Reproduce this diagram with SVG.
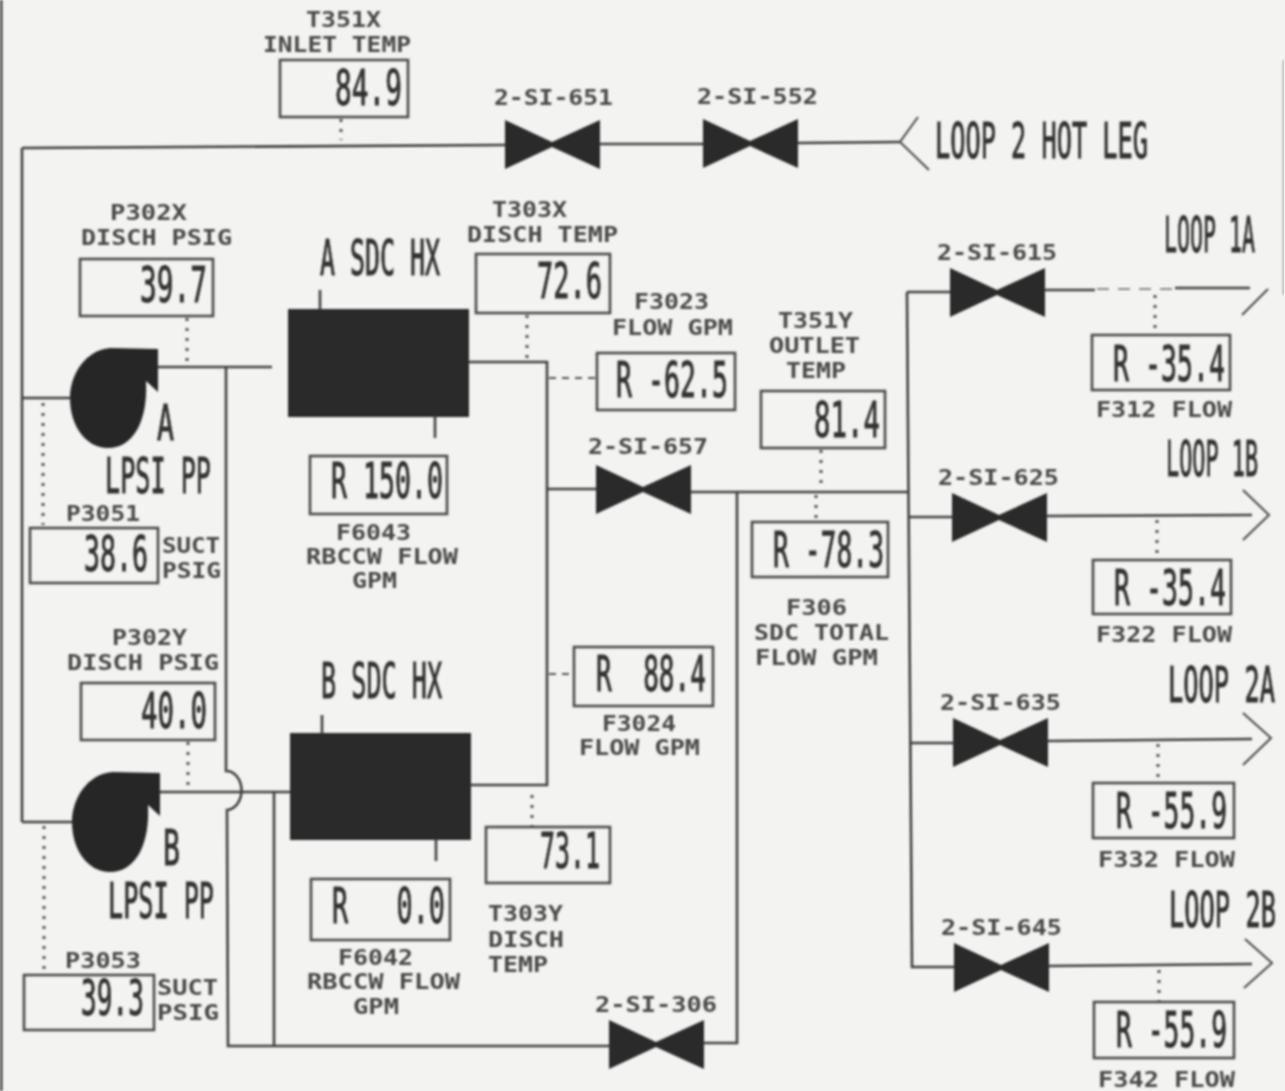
<svg xmlns="http://www.w3.org/2000/svg" width="1285" height="1091" viewBox="0 0 1285 1091">
<style>
text{font-family:"DejaVu Sans Mono","Liberation Mono",monospace;fill:#3c3c3c;white-space:pre}
.s{font-size:22px;font-weight:700;fill:#4a4a4a}
.b{font-size:49px;fill:#333;stroke:#333;stroke-width:1}
.box{fill:none;stroke:#4a4a4a;stroke-width:2.6}
.pipe{fill:none;stroke:#3f3f3f;stroke-width:2.6}
.arrow{fill:none;stroke:#4a4a4a;stroke-width:2}
.dot{fill:none;stroke:#555;stroke-width:3;stroke-dasharray:3 7}
.dash{fill:none;stroke:#555;stroke-width:2;stroke-dasharray:7 6}
.faint{fill:none;stroke:#8a8a8a;stroke-width:2;stroke-dasharray:12 9}
.dark{fill:#2a2a2a}
</style>
<defs>
<filter id="scan" x="0" y="0" width="100%" height="100%"><feGaussianBlur stdDeviation="0.8"/></filter>
<polygon id="v" points="0,0 47,22 95,0 95,49 47,27 0,49" fill="#2a2a2a"/>
<path id="pump" d="M158,349 L110,348 C86,350 70,374 70,398 C70,426 86,448 108,448 C134,448 148,420 146,381 L158,392 Z" fill="#262626"/>
</defs>
<rect width="1285" height="1091" fill="#f3f3f1"/>
<g filter="url(#scan)">
<rect x="0" y="0" width="2.5" height="1091" fill="#444"/>
<path d="M1283.500,60V295" stroke="#999" stroke-width="1.500" fill="none"/>

<g id="connectors">
<path class="pipe" d="M22,148L505,145M600,144L703,144M798,143L900,142M22,148L22,822M22,398L70,398M22,822L72,822"/>
<path class="pipe" d="M158,367L272,367M469,362L547,362L547,785L471,785M226,367L226,771A15,19.500 0 0 1 227,810L228,1046L610,1046M160,792L290,792M274,792L274,1046"/>
<path class="pipe" d="M703,1043L737,1043L737,492M547,489L596,489M690,492L908,492M907,292L912,967L954,967"/>
<path class="pipe" d="M907,292L950,292M1045,290L1095,290M1175,288L1250,288M908,517L952,517M1047,516L1252,515M910,743L953,743M1048,741L1252,739M1048,966L1252,964"/>
<path class="faint" d="M1097,289L1175,289"/>
<path class="pipe" d="M320,290V309M435,417V438M322,715V733M436,840V861"/>
<path class="arrow" d="M918,117L900,142L929,170M1268,289L1242,315M1243,490L1269,515L1243,540M1243,713L1271,738L1243,765M1245,939L1272,963L1244,988"/>
<path class="dot" d="M341,119V140M187,318V365M527,315V360M821,450V490M816,495V522M43,403V525M188,742V790M532,795V826M44,826V972M1155,295V333M1157,520V558M1158,744V782M1159,970V1001"/>
<path class="dash" d="M549,378H596M549,674H574"/>
</g>

<g id="pump-a"><use href="#pump"/><text class="b" transform="translate(157,440) scale(.576,1)">A</text><text class="b" transform="translate(105,493) scale(.513,1)">LPSI PP</text></g>
<g id="pump-b"><use href="#pump" x="2" y="424"/><text class="b" transform="translate(163,865) scale(.576,1)">B</text><text class="b" transform="translate(108,918) scale(.513,1)">LPSI PP</text></g>

<g id="hx-a"><rect class="dark" x="288" y="309" width="181" height="108"/><text class="b" transform="translate(320,275) scale(.508,1)">A SDC HX</text></g>
<g id="hx-b"><rect class="dark" x="290" y="733" width="181" height="107"/><text class="b" transform="translate(321,698) scale(.513,1)">B SDC HX</text></g>

<g id="valve-651"><use href="#v" x="505" y="120"/><text class="s" x="494" y="105" textLength="119" lengthAdjust="spacingAndGlyphs">2-SI-651</text></g>
<g id="valve-552"><use href="#v" x="703" y="119"/><text class="s" x="697" y="104" textLength="121" lengthAdjust="spacingAndGlyphs">2-SI-552</text></g>
<g id="valve-657"><use href="#v" x="596" y="465"/><text class="s" x="588" y="454" textLength="120" lengthAdjust="spacingAndGlyphs">2-SI-657</text></g>
<g id="valve-615"><use href="#v" x="950" y="268"/><text class="s" x="937" y="260" textLength="120" lengthAdjust="spacingAndGlyphs">2-SI-615</text></g>
<g id="valve-625"><use href="#v" x="952" y="493"/><text class="s" x="938" y="485" textLength="121" lengthAdjust="spacingAndGlyphs">2-SI-625</text></g>
<g id="valve-635"><use href="#v" x="953" y="718"/><text class="s" x="940" y="710" textLength="121" lengthAdjust="spacingAndGlyphs">2-SI-635</text></g>
<g id="valve-645"><use href="#v" x="954" y="943"/><text class="s" x="941" y="935" textLength="121" lengthAdjust="spacingAndGlyphs">2-SI-645</text></g>
<g id="valve-306"><use href="#v" x="609" y="1020"/><text class="s" x="595" y="1012" textLength="122" lengthAdjust="spacingAndGlyphs">2-SI-306</text></g>

<g id="t351x"><rect class="box" x="280" y="60" width="128" height="57"/><text class="s" x="306" y="27" textLength="75" lengthAdjust="spacingAndGlyphs">T351X</text><text class="s" x="263" y="52" textLength="148" lengthAdjust="spacingAndGlyphs">INLET TEMP</text><text class="b" transform="translate(335,105) scale(.568,1)">84.9</text></g>
<g id="p302x"><rect class="box" x="80" y="259" width="133" height="57"/><text class="s" x="110" y="220" textLength="77" lengthAdjust="spacingAndGlyphs">P302X</text><text class="s" x="81" y="245" textLength="151" lengthAdjust="spacingAndGlyphs">DISCH PSIG</text><text class="b" transform="translate(140,302) scale(.568,1)">39.7</text></g>
<g id="t303x"><rect class="box" x="476" y="254" width="134" height="59"/><text class="s" x="492" y="217" textLength="75" lengthAdjust="spacingAndGlyphs">T303X</text><text class="s" x="467" y="242" textLength="151" lengthAdjust="spacingAndGlyphs">DISCH TEMP</text><text class="b" transform="translate(537,298) scale(.551,1)">72.6</text></g>
<g id="f3023"><rect class="box" x="597" y="353" width="138" height="57"/><text class="s" x="634" y="309" textLength="75" lengthAdjust="spacingAndGlyphs">F3023</text><text class="s" x="612" y="335" textLength="121" lengthAdjust="spacingAndGlyphs">FLOW GPM</text><text class="b" transform="translate(616,397) scale(.542,1)">R -62.5</text></g>
<g id="t351y"><rect class="box" x="761" y="391" width="124" height="57"/><text class="s" x="778" y="328" textLength="75" lengthAdjust="spacingAndGlyphs">T351Y</text><text class="s" x="769" y="353" textLength="91" lengthAdjust="spacingAndGlyphs">OUTLET</text><text class="s" x="786" y="378" textLength="60" lengthAdjust="spacingAndGlyphs">TEMP</text><text class="b" transform="translate(814,437) scale(.559,1)">81.4</text></g>
<g id="f6043"><rect class="box" x="310" y="456" width="137" height="58"/><text class="b" transform="translate(331,498) scale(.542,1)">R 150.0</text><text class="s" x="336" y="540" textLength="75" lengthAdjust="spacingAndGlyphs">F6043</text><text class="s" x="306" y="564" textLength="152" lengthAdjust="spacingAndGlyphs">RBCCW FLOW</text><text class="s" x="352" y="588" textLength="45" lengthAdjust="spacingAndGlyphs">GPM</text></g>
<g id="p3051"><rect class="box" x="30" y="528" width="128" height="55"/><text class="s" x="66" y="521" textLength="74" lengthAdjust="spacingAndGlyphs">P3051</text><text class="b" transform="translate(84,571) scale(.542,1)">38.6</text><text class="s" x="162" y="553" textLength="58" lengthAdjust="spacingAndGlyphs">SUCT</text><text class="s" x="162" y="578" textLength="59" lengthAdjust="spacingAndGlyphs">PSIG</text></g>
<g id="f306"><rect class="box" x="752" y="522" width="136" height="55"/><text class="b" transform="translate(773,567) scale(.538,1)">R -78.3</text><text class="s" x="786" y="615" textLength="61" lengthAdjust="spacingAndGlyphs">F306</text><text class="s" x="754" y="640" textLength="135" lengthAdjust="spacingAndGlyphs">SDC TOTAL</text><text class="s" x="755" y="665" textLength="123" lengthAdjust="spacingAndGlyphs">FLOW GPM</text></g>
<g id="f312"><rect class="box" x="1092" y="335" width="138" height="55"/><text class="b" transform="translate(1113,381) scale(.542,1)">R -35.4</text><text class="s" x="1096" y="417" textLength="136" lengthAdjust="spacingAndGlyphs">F312 FLOW</text></g>
<g id="f322"><rect class="box" x="1093" y="560" width="138" height="54"/><text class="b" transform="translate(1114,605) scale(.542,1)">R -35.4</text><text class="s" x="1096" y="642" textLength="136" lengthAdjust="spacingAndGlyphs">F322 FLOW</text></g>
<g id="f332"><rect class="box" x="1093" y="783" width="141" height="55"/><text class="b" transform="translate(1116,828) scale(.538,1)">R -55.9</text><text class="s" x="1098" y="867" textLength="137" lengthAdjust="spacingAndGlyphs">F332 FLOW</text></g>
<g id="f342"><rect class="box" x="1094" y="1002" width="140" height="56"/><text class="b" transform="translate(1116,1047) scale(.538,1)">R -55.9</text><text class="s" x="1098" y="1087" textLength="137" lengthAdjust="spacingAndGlyphs">F342 FLOW</text></g>
<g id="p302y"><rect class="box" x="81" y="683" width="134" height="57"/><text class="s" x="112" y="645" textLength="75" lengthAdjust="spacingAndGlyphs">P302Y</text><text class="s" x="67" y="670" textLength="152" lengthAdjust="spacingAndGlyphs">DISCH PSIG</text><text class="b" transform="translate(141,728) scale(.559,1)">40.0</text></g>
<g id="f3024"><rect class="box" x="574" y="647" width="139" height="59"/><text class="b" transform="translate(596,691) scale(.533,1)">R  88.4</text><text class="s" x="602" y="731" textLength="74" lengthAdjust="spacingAndGlyphs">F3024</text><text class="s" x="579" y="755" textLength="121" lengthAdjust="spacingAndGlyphs">FLOW GPM</text></g>
<g id="t303y"><rect class="box" x="486" y="827" width="124" height="56"/><text class="b" transform="translate(540,868) scale(.508,1)">73.1</text><text class="s" x="488" y="921" textLength="75" lengthAdjust="spacingAndGlyphs">T303Y</text><text class="s" x="488" y="947" textLength="76" lengthAdjust="spacingAndGlyphs">DISCH</text><text class="s" x="488" y="972" textLength="60" lengthAdjust="spacingAndGlyphs">TEMP</text></g>
<g id="f6042"><rect class="box" x="311" y="879" width="139" height="61"/><text class="b" transform="translate(332,923) scale(.547,1)">R   0.0</text><text class="s" x="338" y="965" textLength="75" lengthAdjust="spacingAndGlyphs">F6042</text><text class="s" x="307" y="989" textLength="153" lengthAdjust="spacingAndGlyphs">RBCCW FLOW</text><text class="s" x="353" y="1014" textLength="46" lengthAdjust="spacingAndGlyphs">GPM</text></g>
<g id="p3053"><rect class="box" x="24" y="975" width="130" height="55"/><text class="s" x="65" y="968" textLength="76" lengthAdjust="spacingAndGlyphs">P3053</text><text class="b" transform="translate(81,1015) scale(.534,1)">39.3</text><text class="s" x="157" y="995" textLength="61" lengthAdjust="spacingAndGlyphs">SUCT</text><text class="s" x="157" y="1020" textLength="62" lengthAdjust="spacingAndGlyphs">PSIG</text></g>

<g id="loop-labels">
<text class="b" transform="translate(935,158) scale(.516,1)">LOOP 2 HOT LEG</text>
<text class="b" transform="translate(1164,252) scale(.441,1)">LOOP 1A</text>
<text class="b" transform="translate(1166,476) scale(.446,1)">LOOP 1B</text>
<text class="b" transform="translate(1168,702) scale(.518,1)">LOOP 2A</text>
<text class="b" transform="translate(1169,927) scale(.518,1)">LOOP 2B</text>
</g>
</g>
</svg>
